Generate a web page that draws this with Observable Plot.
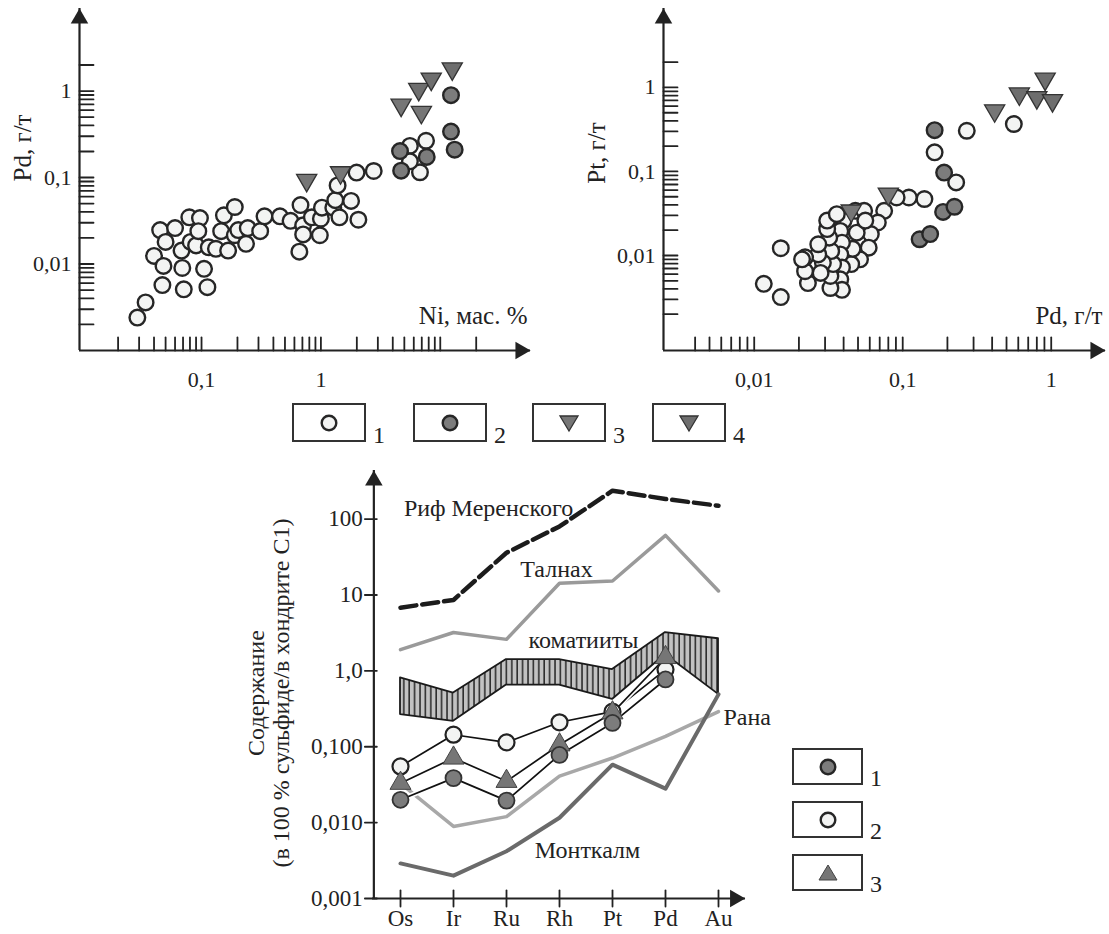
<!DOCTYPE html>
<html><head><meta charset="utf-8">
<script src="https://cdn.jsdelivr.net/npm/d3@7"></script>
<script src="https://cdn.jsdelivr.net/npm/@observablehq/plot@0.6"></script>
<style>
body{margin:0;background:#fff;}
#root{position:relative;width:1109px;height:934px;overflow:hidden;font-family:"Liberation Serif","DejaVu Serif",serif;color:#222;}
#root svg, #root svg text{font-family:"Liberation Serif","DejaVu Serif",serif !important;}
.panel{position:absolute;}
.lbox{position:absolute;border:2px solid #333;box-sizing:border-box;background:#fff;display:flex;align-items:center;justify-content:center;}
.lnum{position:absolute;font-size:24px;line-height:24px;color:#222;}
.ylab{position:absolute;font-size:24px;line-height:25px;white-space:nowrap;text-align:center;transform:translate(-50%,-50%) rotate(-90deg);}
</style></head><body><div id="root"></div>
<script>
// ---------- Panel A: Ni (мас. %) vs Pd (г/т) ----------
const niPdGroup1 = [[0.029,0.0024],[0.034,0.0036],[0.040,0.0124],[0.047,0.0057],[0.048,0.0095],[0.045,0.0247],[0.050,0.018],[0.060,0.026],[0.068,0.0143],[0.071,0.0051],[0.069,0.009],[0.079,0.0347],[0.081,0.018],[0.090,0.0164],[0.097,0.034],[0.094,0.024],[0.105,0.0088],[0.112,0.0054],[0.115,0.0156],[0.132,0.015],[0.146,0.024],[0.154,0.0366],[0.167,0.0143],[0.19,0.0215],[0.19,0.0456],[0.203,0.0247],[0.236,0.0171],[0.244,0.026],[0.31,0.024],[0.337,0.0356],[0.454,0.0356],[0.557,0.0316],[0.675,0.048],[0.71,0.028],[0.71,0.022],[0.66,0.0139],[0.84,0.0347],[0.98,0.0215],[1.0,0.0334],[1.02,0.0448],[1.27,0.0448],[1.32,0.0547],[1.38,0.081],[1.43,0.0347],[1.79,0.0537],[2.06,0.0325],[1.99,0.114],[2.77,0.119],[5.57,0.232],[7.6,0.266],[6.76,0.115],[5.57,0.154]];
const niPdGroup2 = [[4.6,0.202],[4.7,0.12],[7.7,0.173],[12.3,0.895],[12.3,0.34],[13.2,0.21]];
const niPdGroup3 = [[0.76,0.093],[1.46,0.114],[4.7,0.69],[6.95,0.57]];
const niPdGroup4 = [[6.6,1.05],[8.4,1.38],[12.6,1.81]];
const niTicks = [0.02,0.03,0.04,0.05,0.06,0.07,0.08,0.09,0.1,0.2,0.3,0.4,0.5,0.6,0.7,0.8,0.9,1,2,3,4,5,6,7,8,9,10,20];
const pdTicksA = [0.002,0.003,0.004,0.005,0.006,0.007,0.008,0.009,0.01,0.02,0.03,0.04,0.05,0.06,0.07,0.08,0.09,0.1,0.2,0.3,0.4,0.5,0.6,0.7,0.8,0.9,1,2];
const niTickLabels = [[0.1,"0,1"],[1,"1"]];
const pdTickLabelsA = [[0.01,"0,01"],[0.1,"0,1"],[1,"1"]];

// ---------- Panel B: Pd (г/т) vs Pt (г/т) ----------
const pdPtGroup1 = [[0.27,0.305],[0.56,0.367],[0.164,0.169],[0.229,0.074],[0.14,0.047],[0.11,0.049],[0.091,0.049],[0.075,0.034],[0.068,0.0247],[0.061,0.018],[0.059,0.0124],[0.0516,0.009],[0.045,0.0079],[0.046,0.012],[0.049,0.0187],[0.048,0.034],[0.055,0.034],[0.056,0.026],[0.040,0.026],[0.038,0.0196],[0.039,0.0142],[0.038,0.0103],[0.039,0.0072],[0.038,0.0052],[0.039,0.0039],[0.0326,0.0041],[0.0326,0.0057],[0.034,0.0079],[0.033,0.0113],[0.032,0.0163],[0.031,0.0206],[0.031,0.026],[0.036,0.031],[0.029,0.0082],[0.028,0.0062],[0.027,0.0103],[0.023,0.0047],[0.022,0.0065],[0.022,0.0095],[0.027,0.0136],[0.021,0.009],[0.0151,0.0122],[0.0116,0.0046],[0.0151,0.0032]];
const pdPtGroup2 = [[0.164,0.31],[0.19,0.097],[0.187,0.033],[0.223,0.038],[0.13,0.0156],[0.153,0.018]];
const pdPtGroup3 = [[0.08,0.054],[0.045,0.034],[0.416,0.53]];
const pdPtGroup4 = [[0.91,1.26],[0.61,0.84],[0.80,0.76],[1.02,0.70]];
const pdTicksB = [0.004,0.005,0.006,0.007,0.008,0.009,0.01,0.02,0.03,0.04,0.05,0.06,0.07,0.08,0.09,0.1,0.2,0.3,0.4,0.5,0.6,0.7,0.8,0.9,1];
const ptTicks = [0.002,0.003,0.004,0.005,0.006,0.007,0.008,0.009,0.01,0.02,0.03,0.04,0.05,0.06,0.07,0.08,0.09,0.1,0.2,0.3,0.4,0.5,0.6,0.7,0.8,0.9,1,2];
const pdTickLabelsB = [[0.01,"0,01"],[0.1,"0,1"],[1,"1"]];
const ptTickLabels = [[0.01,"0,01"],[0.1,"0,1"],[1,"1"]];

// ---------- Panel C: chondrite-normalised PGE ----------
const elements = ["Os","Ir","Ru","Rh","Pt","Pd","Au"];
const merensky = [6.8,8.6,36,80,237,184,150];
const talnakh = [1.9,3.2,2.6,14.3,15.3,61,11.3];
const komatiiteHigh = [0.81,0.51,1.41,1.41,1.04,3.2,2.65];
const komatiiteLow = [0.265,0.216,0.65,0.65,0.42,1.64,0.49];
const rana = [0.033,0.0089,0.012,0.041,0.071,0.137,0.29];
const montcalm = [0.0029,0.002,0.0042,0.0116,0.058,0.028,0.49];
const series1 = [0.02,0.0386,0.0195,0.078,0.206,0.77];
const series2 = [0.055,0.144,0.114,0.21,0.29,1.04];
const series3 = [0.033,0.071,0.035,0.106,0.28,1.5];
const yTicksC = [100,10,1,0.1,0.01,0.001];
const yTickLabelsC = ["100","10","1,0","0,100","0,010","0,001"];

// ---------- helpers ----------
const FONT = '"Liberation Serif","DejaVu Serif",serif';
const INK = "#222";
const tickUp = {draw(ctx, l){ctx.moveTo(0,0); ctx.lineTo(0,-l);}};
const tickRight = {draw(ctx, l){ctx.moveTo(0,0); ctx.lineTo(l,0);}};
const tickCross = {draw(ctx, l){ctx.moveTo(0,-l); ctx.lineTo(0,l);}};
const openFill = "#f3f4f3", fillGrey = "#7c7c7c", triFill = "#767676";

function scatterPanel(o){
  const [x0,x1] = o.xDomain, [y0,y1] = o.yDomain;
  return Plot.plot({
    width: o.width, height: 395,
    marginLeft: o.ml, marginRight: o.mr, marginTop: 8, marginBottom: 45,
    x: {type: "log", domain: o.xDomain, axis: null},
    y: {type: "log", domain: o.yDomain, axis: null},
    style: {fontFamily: FONT, color: INK, background: "transparent", overflow: "visible"},
    marks: [
      Plot.ruleY([y0], {stroke: INK, strokeWidth: 2.2}),
      Plot.ruleX([x0], {stroke: INK, strokeWidth: 2.2}),
      Plot.dot([[x1,y0]], {x: d=>d[0], y: d=>d[1], symbol: "triangle", rotate: 90, r: 6.5, fill: INK, stroke: "none", dx: -10}),
      Plot.dot([[x0,y1]], {x: d=>d[0], y: d=>d[1], symbol: "triangle", rotate: 0, r: 6.5, fill: INK, stroke: "none", dy: 10}),
      Plot.vector(o.xTicks, {x: d=>d, y: y0, length: 13, shape: tickUp, anchor: "start", stroke: INK, strokeWidth: 1.8, fill: "none"}),
      Plot.vector(o.yTicks, {x: x0, y: d=>d, length: 14, shape: tickRight, anchor: "start", stroke: INK, strokeWidth: 1.8, fill: "none"}),
      Plot.text(o.xLabels, {x: d=>d[0], y: y0, text: d=>d[1], dy: 29, fontSize: 22, fill: INK}),
      Plot.text(o.yLabels, {x: x0, y: d=>d[0], text: d=>d[1], textAnchor: "end", dx: -8, fontSize: 22, fill: INK}),
      Plot.text([o.xTitle], {frameAnchor: "bottom-right", text: d=>d, dx: -3, dy: -27, fontSize: 25, fill: INK}),
      Plot.dot(o.g1, {x: d=>d[0], y: d=>d[1], r: 7.8, fill: openFill, stroke: "#262626", strokeWidth: 2.4}),
      Plot.dot(o.g2, {x: d=>d[0], y: d=>d[1], r: 7.8, fill: fillGrey, stroke: "#262626", strokeWidth: 2.4}),
      Plot.dot(o.g3, {x: d=>d[0], y: d=>d[1], symbol: "triangle", rotate: 180, r: 7.5, fill: triFill, stroke: "#333", strokeWidth: 1.3}),
      Plot.dot(o.g4, {x: d=>d[0], y: d=>d[1], symbol: "triangle", rotate: 180, r: 7.5, fill: "#6e6e6e", stroke: "#333", strokeWidth: 1.3})
    ]
  });
}

const root = document.getElementById("root");
function place(el, left, top){ el.classList.add("panel"); el.style.left = left+"px"; el.style.top = top+"px"; root.appendChild(el); }

const panelA = scatterPanel({
  width: 545, ml: 79, mr: 15,
  xDomain: [0.0095, 57], yDomain: [0.001, 9],
  xTicks: niTicks, yTicks: pdTicksA, xLabels: niTickLabels, yLabels: pdTickLabelsA,
  xTitle: "Ni, мас. %",
  g1: niPdGroup1, g2: niPdGroup2, g3: niPdGroup3, g4: niPdGroup4
});
place(panelA, 0, 0);

const panelB = scatterPanel({
  width: 549, ml: 103, mr: 4,
  xDomain: [0.00245, 2.32], yDomain: [0.00074, 8.7],
  xTicks: pdTicksB, yTicks: ptTicks, xLabels: pdTickLabelsB, yLabels: ptTickLabels,
  xTitle: "Pd, г/т",
  g1: pdPtGroup1, g2: pdPtGroup2, g3: pdPtGroup3, g4: pdPtGroup4
});
place(panelB, 560, 0);

// rotated y titles for panels A and B
function ylab(text, cx, cy, size){ const d = document.createElement("div"); d.className = "ylab"; d.innerHTML = text; d.style.left = cx+"px"; d.style.top = cy+"px"; if (size) d.style.fontSize = size+"px"; root.appendChild(d); }
ylab("Pd, г/т", 22, 148, 25);
ylab("Pt, г/т", 596, 153, 25);

// ---------- Panel C ----------
const rowsC = elements.map((el,i) => ({el, merensky: merensky[i], talnakh: talnakh[i], hi: komatiiteHigh[i], lo: komatiiteLow[i], rana: rana[i], montcalm: montcalm[i]}));
const seriesRows = (vals) => vals.map((v,i) => ({el: elements[i], v}));
const s1 = seriesRows(series1), s2 = seriesRows(series2), s3 = seriesRows(series3);
const HALF = 373/7/2;
const seriesLine = (rows) => [
  Plot.line(rows, {x: "el", y: "v", stroke: "#fff", strokeWidth: 5}),
  Plot.line(rows, {x: "el", y: "v", stroke: "#111", strokeWidth: 1.7})
];
const panelC = Plot.plot({
  width: 660, height: 494,
  marginLeft: 142, marginRight: 145, marginTop: 30, marginBottom: 36,
  x: {type: "point", domain: elements, padding: 0.5, axis: null},
  y: {type: "log", domain: [0.001, 437], axis: null},
  style: {fontFamily: FONT, color: INK, background: "transparent", overflow: "visible"},
  marks: [
    Plot.areaY(rowsC, {x: "el", y1: "lo", y2: "hi", fill: "url(#hatchC)", stroke: "#1a1a1a", strokeWidth: 1.8}),
    Plot.line(rowsC, {x: "el", y: "merensky", stroke: "#1c1c1c", strokeWidth: 4.5, strokeDasharray: "16,6"}),
    Plot.line(rowsC, {x: "el", y: "talnakh", stroke: "#9a9a9a", strokeWidth: 3.5}),
    Plot.line(rowsC, {x: "el", y: "rana", stroke: "#a8a8a8", strokeWidth: 3.5}),
    Plot.line(rowsC, {x: "el", y: "montcalm", stroke: "#6a6a6a", strokeWidth: 4}),
    ...seriesLine(s2), ...seriesLine(s3), ...seriesLine(s1),
    Plot.dot(s2, {x: "el", y: "v", r: 8, fill: openFill, stroke: "#222", strokeWidth: 2.2}),
    Plot.dot(s3, {x: "el", y: "v", symbol: "triangle", r: 7.8, fill: triFill, stroke: "#444", strokeWidth: 1}),
    Plot.dot(s1, {x: "el", y: "v", r: 8, fill: fillGrey, stroke: "#333", strokeWidth: 1.8}),
    // axes
    Plot.ruleY([0.001], {stroke: INK, strokeWidth: 2.2}),
    Plot.ruleX([elements[0]], {x: d=>d, dx: -HALF, stroke: INK, strokeWidth: 2.2}),
    Plot.dot([elements[0]], {x: d=>d, y: 437, dx: -HALF, dy: 10, symbol: "triangle", r: 6.5, fill: INK, stroke: "none"}),
    Plot.dot([elements[6]], {x: d=>d, y: 0.001, dx: HALF - 10, symbol: "triangle", rotate: 90, r: 6.5, fill: INK, stroke: "none"}),
    Plot.vector(elements, {x: d=>d, y: 0.001, length: 8, shape: tickCross, anchor: "start", stroke: INK, strokeWidth: 1.8, fill: "none"}),
    Plot.vector(yTicksC, {x: () => elements[0], y: d=>d, dx: -HALF, length: 9, rotate: 0, shape: {draw(ctx,l){ctx.moveTo(-l,0); ctx.lineTo(3,0);}}, anchor: "start", stroke: INK, strokeWidth: 1.8, fill: "none"}),
    Plot.text(yTicksC, {x: () => elements[0], y: d=>d, text: (d,i) => yTickLabelsC[i], dx: -HALF - 11, textAnchor: "end", fontSize: 23, fill: INK}),
    Plot.text(elements, {x: d=>d, y: 0.001, text: d=>d, dy: 20, fontSize: 23, fill: INK}),
    // curve labels
    Plot.text(["Риф Меренского"], {x: () => "Ru", y: 140, text: d=>d, dx: -18, fontSize: 24, fill: INK}),
    Plot.text(["Талнах"], {x: () => "Rh", y: 22, text: d=>d, dx: -3, fontSize: 24, fill: INK}),
    Plot.text(["коматииты"], {x: () => "Rh", y: 2.5, text: d=>d, dx: 24, fontSize: 24, fill: INK}),
    Plot.text(["Рана"], {x: () => "Au", y: 0.243, text: d=>d, dx: 5, textAnchor: "start", fontSize: 24, fill: INK}),
    Plot.text(["Монткалм"], {x: () => "Rh", y: 0.0043, text: d=>d, dx: 28, fontSize: 24, fill: INK})
  ]
});
// hatch pattern for the komatiite band
const ns = "http://www.w3.org/2000/svg";
const defs = document.createElementNS(ns, "defs");
defs.innerHTML = '<pattern id="hatchC" patternUnits="userSpaceOnUse" width="5.4" height="10"><rect width="5.4" height="10" fill="#c2c2c2"/><line x1="1" y1="0" x2="1" y2="10" stroke="#1a1a1a" stroke-width="1.4"/></pattern>';
(panelC.tagName.toLowerCase() === "svg" ? panelC : panelC.querySelector("svg")).prepend(defs);
place(panelC, 230, 440);
ylab("Содержание<br>(в 100 % сульфиде/в хондрите С1)", 269, 693);

// ---------- legends ----------
const symCircle = (fill) => `<svg width="20" height="20"><circle cx="10" cy="10" r="7.3" fill="${fill}" stroke="#262626" stroke-width="2.4"/></svg>`;
const symTriDown = (fill) => `<svg width="22" height="20"><path d="M2,3 L20,3 L11,18 Z" fill="${fill}" stroke="#333" stroke-width="1.3"/></svg>`;
const symTriUp = (fill) => `<svg width="22" height="20"><path d="M2,17 L20,17 L11,2 Z" fill="${fill}" stroke="#444" stroke-width="1"/></svg>`;
function legendBox(x, y, w, h, sym, num){
  const b = document.createElement("div"); b.className = "lbox";
  b.style.left = x+"px"; b.style.top = y+"px"; b.style.width = w+"px"; b.style.height = h+"px";
  b.innerHTML = sym; root.appendChild(b);
  const n = document.createElement("div"); n.className = "lnum"; n.textContent = num;
  n.style.left = (x + w + 7)+"px"; n.style.top = (y + h - 19)+"px"; root.appendChild(n);
}
const topLegendSyms = [symCircle(openFill), symCircle(fillGrey), symTriDown(triFill), symTriDown("#6e6e6e")];
const topLegendNums = ["1","2","3","4"];
const topLegendX = [292, 413, 532, 652];
topLegendX.forEach((x,i) => legendBox(x, 403, 74, 39, topLegendSyms[i], topLegendNums[i]));
const botLegendSyms = [symCircle(fillGrey), symCircle(openFill), symTriUp(triFill)];
const botLegendY = [748, 801, 854];
botLegendY.forEach((y,i) => legendBox(792, y, 71, 37, botLegendSyms[i], String(i+1)));
</script>
</body></html>
